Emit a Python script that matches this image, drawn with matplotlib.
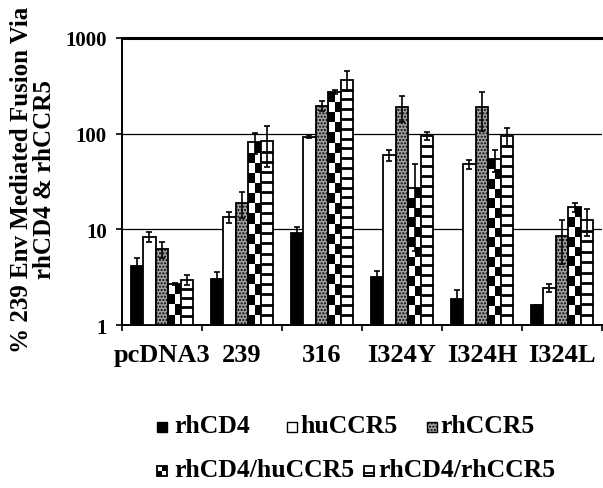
import numpy as np
import matplotlib
matplotlib.use('Agg')
import matplotlib.pyplot as plt
from matplotlib.patches import Rectangle

plt.rcParams['font.family'] = ['Liberation Serif', 'DejaVu Serif']
plt.rcParams['font.weight'] = 'bold'
plt.rcParams['hatch.linewidth'] = 1.0

# data (log axis, % fusion)
groups = ['pcDNA3', '239', '316', 'I324Y', 'I324H', 'I324L']
series = ['rhCD4', 'huCCR5', 'rhCCR5', 'rhCD4/huCCR5', 'rhCD4/rhCCR5']

rhCD4 = [4.1, 3.0, 9.1, 3.2, 1.87, 1.63]
rhCD4_err = [0.9, 0.55, 1.6, 0.5, 0.47, 0.0]
huCCR5 = [8.4, 13.3, 93, 60, 48, 2.44]
huCCR5_err = [1.0, 1.7, 3.5, 8, 5, 0.25]
rhCCR5 = [6.2, 18.8, 196, 191, 188, 8.45]
rhCCR5_err = [1.2, 5.6, 23, 58, 82, 4.1]
rhCD4_huCCR5 = [2.7, 81, 273, 27, 54, 17]
rhCD4_huCCR5_err = [0.05, 20, 13, 21, 14, 1.8]
rhCD4_rhCCR5 = [2.97, 83, 366, 94, 95, 12.5]
rhCD4_rhCCR5_err = [0.38, 38, 88, 9, 20, 3.9]

values = [rhCD4, huCCR5, rhCCR5, rhCD4_huCCR5, rhCD4_rhCCR5]
errors = [rhCD4_err, huCCR5_err, rhCCR5_err, rhCD4_huCCR5_err, rhCD4_rhCCR5_err]

W, H = 603, 489
fig = plt.figure(figsize=(W / 100, H / 100), dpi=100)
ax = fig.add_axes([122 / W, 163 / H, 480 / W, 287 / H])
ax.set_yscale('log')
ax.set_ylim(1, 1000)
ax.set_xlim(-0.5, len(groups) - 0.5)

STIP = dict(facecolor='#a0a0a0', edgecolor='black', hatch='.....')
styles = [
    dict(facecolor='black', edgecolor='black'),
    dict(facecolor='white', edgecolor='black'),
    STIP,
    dict(facecolor='none', edgecolor='black'),
    dict(facecolor='white', edgecolor='black'),
]

x = np.arange(len(groups))
bw = 0.157
ppd = ax.bbox.height / 3.0          # pixels per decade
cell = 10.0                          # pattern row height in px

for i, (vals, errs, st) in enumerate(zip(values, errors, styles)):
    xs = x + (i - 2) * bw
    bars = ax.bar(xs, np.array(vals) - 1, bw, bottom=1, linewidth=1.3, zorder=3, **st)
    for b, v in zip(bars, vals):
        x0, w = b.get_x(), b.get_width()
        n = max(1, int(round(np.log10(v) * ppd / cell)))
        ye = np.logspace(0, np.log10(v), n + 1)
        if i == 3:
            # checkerboard fill, two cells across
            xe = np.linspace(x0, x0 + w, 3)
            z = (np.add.outer(np.arange(n), np.arange(2)) % 2).astype(float)
            ax.pcolormesh(xe, ye, z, cmap='gray', vmin=0, vmax=1, zorder=2.5)
        elif i == 4:
            # ladder fill
            ax.hlines(ye[1:-1], x0, x0 + w, color='black', linewidth=2.0, zorder=3.5)
    ax.errorbar(xs, vals, yerr=errs, fmt='none', ecolor='black', elinewidth=1.2,
                capsize=2.5, capthick=1.2, zorder=5)

ax.set_axisbelow(True)
ax.yaxis.grid(True, which='major', color='black', linewidth=0.9)
ax.set_yticks([1, 10, 100, 1000])
ax.set_yticklabels(['1', '10', '100', '1000'], fontsize=15)
ax.yaxis.set_minor_locator(matplotlib.ticker.NullLocator())
ax.tick_params(axis='y', direction='out', length=4, width=1.2, pad=7)

ax.set_xticks(x)
ax.set_xticklabels(groups, fontsize=19)
ax.set_xticks(np.arange(len(groups) + 1) - 0.5, minor=True)
ax.tick_params(axis='x', which='major', length=0, pad=13)
ax.tick_params(axis='x', which='minor', direction='out', length=4, width=1.2)

ax.spines['right'].set_visible(False)
ax.spines['top'].set_linewidth(2.2)
ax.spines['left'].set_linewidth(1.4)
ax.spines['bottom'].set_linewidth(1.4)

fig.text(33 / W, 1 - 180 / H, '% 239 Env Mediated Fusion Via\nrhCD4 & rhCCR5',
         rotation=90, ha='center', va='center', multialignment='center',
         fontsize=18, linespacing=0.95)


# legend drawn by hand: 3 keys in the first row, 2 in the second
def key(px, py, kind):
    sz = 10
    pos = (px / W, 1 - py / H)
    dims = (sz / W, sz / H)
    if kind == 0:
        fig.add_artist(Rectangle(pos, *dims, transform=fig.transFigure,
                                 facecolor='black', edgecolor='black', lw=1))
    elif kind == 1:
        fig.add_artist(Rectangle(pos, *dims, transform=fig.transFigure,
                                 facecolor='white', edgecolor='black', lw=1))
    elif kind == 2:
        fig.add_artist(Rectangle(pos, *dims, transform=fig.transFigure, lw=1, **STIP))
    elif kind == 3:
        fig.add_artist(Rectangle(pos, *dims, transform=fig.transFigure,
                                 facecolor='white', edgecolor='black', lw=1.3))
        for qx, qy in [(0.5, 0.5), (0, 0)]:
            fig.add_artist(Rectangle((pos[0] + qx * dims[0], pos[1] + qy * dims[1]),
                                     dims[0] / 2, dims[1] / 2, transform=fig.transFigure,
                                     facecolor='black', edgecolor='none'))
    else:
        fig.add_artist(Rectangle(pos, *dims, transform=fig.transFigure,
                                 facecolor='white', edgecolor='black', lw=1.3))
        fig.add_artist(Rectangle(pos, dims[0], dims[1] * 0.35, transform=fig.transFigure,
                                 facecolor='none', edgecolor='black', lw=1.3))


leg_pos = [(157, 433, 174), (287, 433, 300), (427, 433, 440), (157, 477, 174), (364, 477, 378)]
for k, (kx, ky, tx) in enumerate(leg_pos):
    key(kx, ky, k)
    fig.text(tx / W, 1 - ky / H, series[k], fontsize=18.5, ha='left', va='baseline')

fig.savefig('out.png', dpi=100)
